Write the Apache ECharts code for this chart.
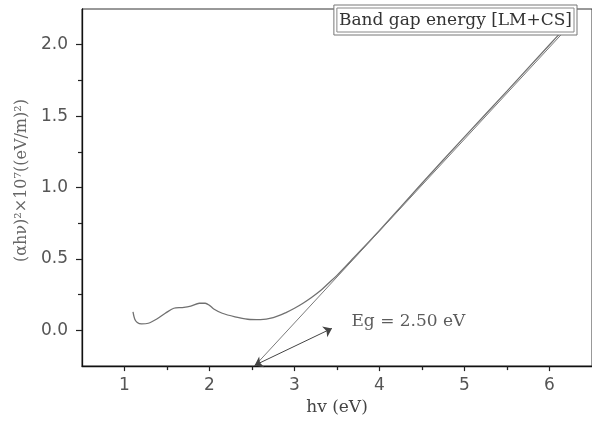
<!DOCTYPE html>
<html><head><meta charset="utf-8">
<style>html,body{margin:0;padding:0;background:#fff}#c{width:592px;height:421px}</style>
<script src="https://cdn.jsdelivr.net/npm/echarts@6.0.0/dist/echarts.min.js"></script>
</head><body><div id="c"></div>
<script>
// measured curve (hv in eV, (ahv)^2 x10^7)
const curveX = [1.10, 1.12, 1.15, 1.20, 1.28, 1.38, 1.48, 1.58, 1.68, 1.78, 1.88, 1.95, 2.00, 2.05, 2.15, 2.30, 2.45, 2.60, 2.75, 2.90, 3.00, 3.10, 3.20, 3.30, 3.40, 3.50, 3.70, 4.00, 4.50, 5.00, 5.50, 6.00, 6.14];
const curveY = [0.13, 0.08, 0.055, 0.045, 0.05, 0.08, 0.12, 0.155, 0.16, 0.17, 0.19, 0.19, 0.175, 0.15, 0.12, 0.095, 0.078, 0.075, 0.09, 0.125, 0.155, 0.19, 0.23, 0.275, 0.33, 0.385, 0.51, 0.70, 1.03, 1.355, 1.675, 2.00, 2.09];
// linear fit (tangent) line
const fitX = [2.53, 6.16];
const fitY = [-0.25, 2.085];
// double arrow pointing at the band gap
const arrowFrom = [3.44, 0.014];
const arrowTo = [2.53, -0.245];
const egLabelAt = [4.34, 0.063];
const egText = 'Eg = 2.50 eV';
const legendText = 'Band gap energy [LM+CS]';
const xTicks = [1, 2, 3, 4, 5, 6];
const xMinorTicks = [1.5, 2.5, 3.5, 4.5, 5.5];
const yTicks = [0, 0.5, 1.0, 1.5, 2.0];
const yMinorTicks = [0.25, 0.75, 1.25, 1.75];
const xRange = [0.5, 6.5];
const yRange = [-0.25, 2.25];

const chart = echarts.init(document.getElementById('c'), null, {renderer: 'canvas'});
const serif = 'DejaVu Serif';
const sans = 'DejaVu Sans';

const ctx = document.createElement('canvas').getContext('2d');
ctx.font = '17px "DejaVu Serif"';
const tw = ctx.measureText(legendText).width;
const boxR = 577, boxT = 5, boxB = 35;
const boxL = boxR - tw - 10;

function axisBase(extra) {
  return Object.assign({
    type: 'value', gridIndex: 0,
    splitLine: {show: false}
  }, extra);
}

const option = {
  animation: false,
  backgroundColor: '#fff',
  grid: {left: 82, top: 9, width: 512, height: 359, show: true, borderColor: '#333', borderWidth: 1, backgroundColor: 'transparent'},
  xAxis: [
    axisBase({
      min: xRange[0], max: xRange[1], position: 'bottom',
      axisLine: {show: true, onZero: false, lineStyle: {color: '#111', width: 1.3}},
      axisTick: {show: true, length: 5, customValues: xTicks, lineStyle: {color: '#222', width: 1.2}},
      axisLabel: {show: true, customValues: xTicks, margin: 11, color: '#555', fontFamily: sans, fontSize: 17},
      name: 'hv (eV)', nameLocation: 'middle', nameGap: 27,
      nameTextStyle: {fontFamily: serif, fontSize: 17, color: '#444'}
    }),
    axisBase({
      min: xRange[0], max: xRange[1], position: 'bottom',
      axisLine: {show: false, onZero: false},
      axisTick: {show: true, length: 4, customValues: xMinorTicks, lineStyle: {color: '#222', width: 1.3}},
      axisLabel: {show: false}
    })
  ],
  yAxis: [
    axisBase({
      min: yRange[0], max: yRange[1], position: 'left',
      axisLine: {show: true, onZero: false, lineStyle: {color: '#111', width: 1.3}},
      axisTick: {show: true, length: 6, customValues: yTicks, lineStyle: {color: '#222', width: 1.2}},
      axisLabel: {show: true, customValues: yTicks, margin: 14, color: '#555', fontFamily: sans, fontSize: 17,
        formatter: v => v.toFixed(1)},
      name: '(αhν)²×10⁷((eV/m)²)', nameLocation: 'middle', nameGap: 50, nameRotate: 90,
      nameTextStyle: {fontFamily: serif, fontSize: 16, color: '#666', padding: [0, 0, 0, 14]}
    }),
    axisBase({
      min: yRange[0], max: yRange[1], position: 'left',
      axisLine: {show: false, onZero: false},
      axisTick: {show: true, length: 4, customValues: yMinorTicks, lineStyle: {color: '#222', width: 1.2}},
      axisLabel: {show: false}
    })
  ],
  series: [
    {
      type: 'line', xAxisIndex: 0, yAxisIndex: 0,
      data: curveX.map((x, i) => [x, curveY[i]]),
      showSymbol: false, symbol: 'none', smooth: 0.3,
      lineStyle: {color: '#707070', width: 1.3},
      silent: true,
      markLine: {
        silent: true, symbol: ['arrow', 'arrow'], symbolSize: [9, 8],
        label: {show: false},
        lineStyle: {color: '#444', width: 1, type: 'solid'},
        data: [[{coord: arrowTo}, {coord: arrowFrom}]]
      }
    },
    {
      type: 'line', xAxisIndex: 0, yAxisIndex: 0,
      data: fitX.map((x, i) => [x, fitY[i]]),
      showSymbol: false, symbol: 'none',
      lineStyle: {color: '#7a7a7a', width: 1},
      silent: true
    },
    {
      type: 'scatter', xAxisIndex: 0, yAxisIndex: 0,
      data: [egLabelAt], symbolSize: 1, itemStyle: {color: 'rgba(0,0,0,0)'},
      silent: true,
      label: {show: true, position: 'inside', formatter: egText, fontFamily: serif, fontSize: 17, color: '#333'}
    }
  ],
  graphic: [
    {type: 'rect', z: 100, shape: {x: boxL, y: boxT, width: boxR - boxL, height: boxB - boxT},
      style: {fill: '#fff', stroke: '#777', lineWidth: 1}},
    {type: 'rect', z: 101, shape: {x: boxL + 3, y: boxT + 3, width: boxR - boxL - 6, height: boxB - boxT - 6},
      style: {fill: '#fff', stroke: '#888', lineWidth: 1}},
    {type: 'text', z: 102, x: boxR - 5, y: (boxT + boxB) / 2 + 1,
      style: {text: legendText, font: '17px "DejaVu Serif"', fill: '#333', align: 'right', verticalAlign: 'middle'}}
  ]
};
chart.setOption(option);
</script>
</body></html>
